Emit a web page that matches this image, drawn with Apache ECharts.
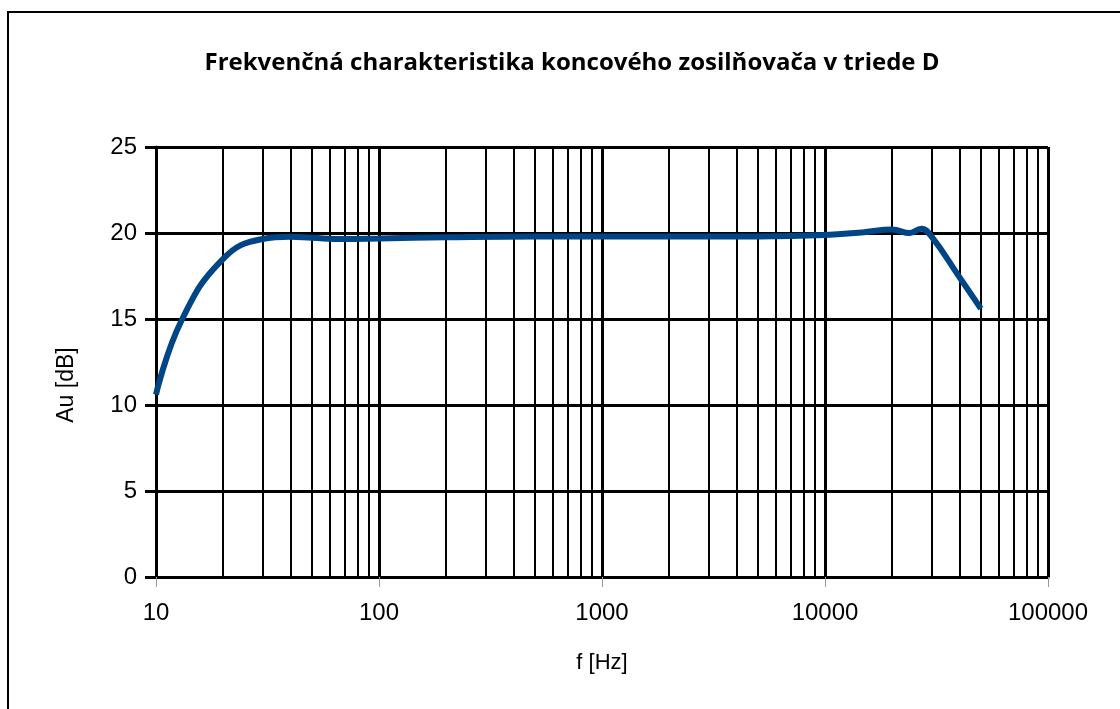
<!DOCTYPE html>
<html>
<head>
<meta charset="utf-8">
<script src="https://cdn.jsdelivr.net/npm/echarts@6/dist/echarts.min.js"></script>
<style>
  html, body { margin: 0; padding: 0; background: #fff; }
  #chart { width: 1120px; height: 709px; }
</style>
</head>
<body>
<div id="chart"></div>
<script>
// Measured frequency response of the class-D power amplifier
const freqHz = [10, 13, 20, 30, 40, 50, 70, 100, 200, 500, 1000, 2000, 5000, 10000, 15000, 20000, 24000, 27000, 30000, 40000, 50000];
const gainDb = [10.6, 14.9, 18.5, 19.65, 19.78, 19.72, 19.65, 19.68, 19.75, 19.8, 19.8, 19.8, 19.8, 19.88, 20.05, 20.2, 20.0, 20.25, 19.8, 17.45, 15.6];

const titleText = 'Frekvenčná charakteristika koncového zosilňovača v triede D';
const xName = 'f [Hz]';
const yName = 'Au [dB]';

// Minor vertical grid lines at 2..9 × each decade
const decades = [10, 100, 1000, 10000];
const minorFreqs = [];
decades.forEach(d => { for (let m = 2; m <= 9; m++) minorFreqs.push(d * m); });

const points = freqHz.map((f, i) => [f, gainDb[i]]);
const sansFont = '"Liberation Sans", Arial, sans-serif';

const chart = echarts.init(document.getElementById('chart'), null, { renderer: 'canvas' });
chart.setOption({
  animation: false,
  backgroundColor: '#ffffff',
  grid: { left: 156, right: 72, top: 147, bottom: 132, containLabel: false },
  graphic: [
    {
      type: 'rect',
      shape: { x: 8, y: 12, width: 1300, height: 900 },
      style: { fill: 'none', stroke: '#000', lineWidth: 2 },
      z: 0, silent: true
    },
    {
      type: 'text',
      x: 572, y: 63,
      style: {
        text: titleText,
        fill: '#000',
        font: 'bold 24px "Open Sans", Lato, sans-serif',
        textAlign: 'center', textVerticalAlign: 'middle'
      },
      silent: true
    }
  ],
  xAxis: {
    type: 'log',
    logBase: 10,
    min: 10,
    max: 100000,
    name: xName,
    nameLocation: 'middle',
    nameGap: 75,
    nameTextStyle: { fontFamily: sansFont, fontSize: 22, color: '#000' },
    axisLine: { show: true, lineStyle: { color: '#000', width: 3 } },
    axisTick: { show: true, length: 10, lineStyle: { color: '#999', width: 1 } },
    axisLabel: {
      margin: 24, fontFamily: sansFont, fontSize: 24, color: '#000',
      formatter: v => String(Math.round(v))
    },
    splitLine: { show: true, lineStyle: { color: '#000', width: 3 } },
    minorTick: { show: false },
    minorSplitLine: { show: false }
  },
  yAxis: {
    type: 'value',
    min: 0,
    max: 25,
    interval: 5,
    name: yName,
    nameLocation: 'middle',
    nameGap: 78,
    nameRotate: 90,
    nameTextStyle: { fontFamily: sansFont, fontSize: 23, color: '#000', padding: [0, 46, 0, 0] },
    axisLine: { show: true, lineStyle: { color: '#000', width: 3 } },
    axisTick: { show: true, length: 11, lineStyle: { color: '#000', width: 3 } },
    axisLabel: { margin: 19, fontFamily: sansFont, fontSize: 24, color: '#000' },
    splitLine: { show: true, lineStyle: { color: '#000', width: 3 } }
  },
  series: [
    {
      name: 'minor-grid',
      type: 'line',
      data: [],
      z: 1,
      silent: true,
      markLine: {
        silent: true,
        symbol: ['none', 'none'],
        label: { show: false },
        lineStyle: { color: '#000', width: 2, type: 'solid' },
        data: minorFreqs.map(f => ({ xAxis: f }))
      }
    },
    {
      name: yName,
      type: 'line',
      data: points,
      smooth: 0.45,
      showSymbol: false,
      symbol: 'none',
      z: 5,
      lineStyle: { color: '#004586', width: 6 }
    }
  ]
});
</script>
</body>
</html>
